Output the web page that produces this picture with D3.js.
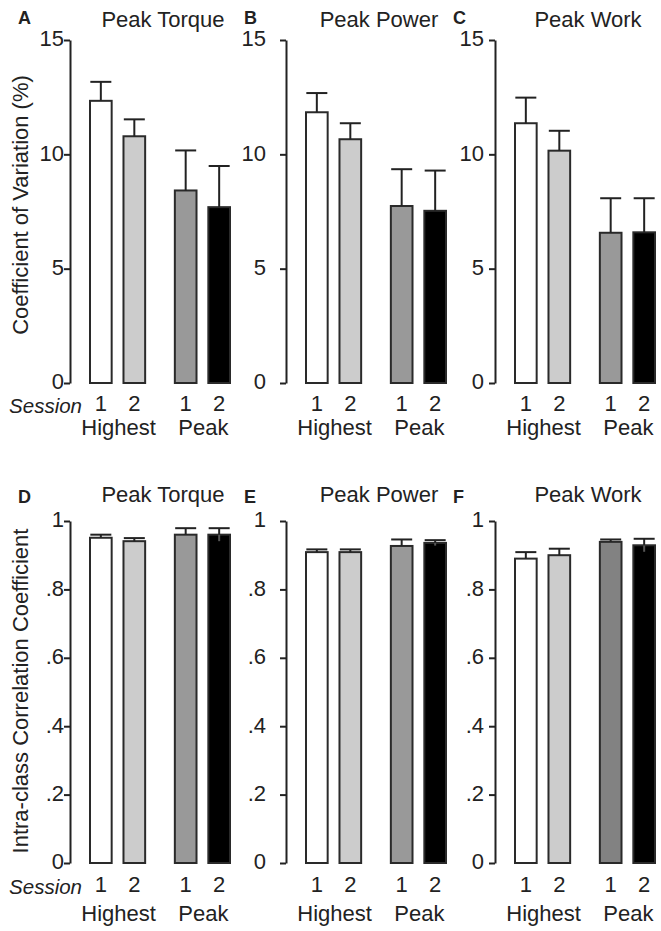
<!DOCTYPE html>
<html><head><meta charset="utf-8">
<script src="https://cdn.jsdelivr.net/npm/d3@7"></script>
<style>
body{margin:0;background:#fff}
svg{display:block}
text{font-family:"Liberation Sans",Arial,Helvetica,sans-serif;fill:#222}
</style>
</head><body><div id="chart"></div>
<script>
// ---------- data ----------
const metrics = ["Peak Torque", "Peak Power", "Peak Work"];
const groups = ["Highest", "Peak"];
const sessions = ["1", "2"];
const topLetters = ["A", "B", "C"];
const bottomLetters = ["D", "E", "F"];

// Coefficient of variation (%) : Highest S1, Highest S2, Peak S1, Peak S2
const cvTorqueMean = [12.34, 10.79, 8.42, 7.69];
const cvTorqueErr  = [0.83, 0.74, 1.75, 1.80];
const cvPowerMean  = [11.84, 10.66, 7.74, 7.53];
const cvPowerErr   = [0.84, 0.70, 1.61, 1.76];
const cvWorkMean   = [11.36, 10.16, 6.57, 6.59];
const cvWorkErr    = [1.12, 0.87, 1.51, 1.49];

// Intra-class correlation coefficient
const iccTorqueMean = [0.951, 0.941, 0.960, 0.960];
const iccTorqueErr  = [0.009, 0.009, 0.019, 0.019];
const iccPowerMean  = [0.909, 0.909, 0.927, 0.936];
const iccPowerErr   = [0.008, 0.008, 0.019, 0.008];
const iccWorkMean   = [0.890, 0.900, 0.939, 0.929];
const iccWorkErr    = [0.019, 0.019, 0.007, 0.019];

const cvTicks = [0, 5, 10, 15];
const cvTickLabels = ["0", "5", "10", "15"];
const iccTicks = [0, 0.2, 0.4, 0.6, 0.8, 1];
const iccTickLabels = ["0", ".2", ".4", ".6", ".8", "1"];

const barFills = ["#ffffff", "#cccccc", "#999999", "#000000"];
const barFillsWorkIcc = ["#ffffff", "#cccccc", "#828282", "#000000"];

// ---------- layout ----------
const W = 661, H = 931;
const FS = "22px";
const panelX = [70, 286, 495];
const labelPad = [0, 14, 5];
const svg = d3.select("#chart").append("svg").attr("width", W).attr("height", H);

const rows = [
  {
    y: d3.scaleLinear().domain([0, 15]).range([383, 40]),
    ticks: cvTicks, tickLabels: cvTickLabels,
    means: [cvTorqueMean, cvPowerMean, cvWorkMean],
    errs: [cvTorqueErr, cvPowerErr, cvWorkErr],
    fills: [barFills, barFills, barFills],
    letters: topLetters, titleY: 27, letterY: 24,
    sessionY: 411, groupY: 435,
    yLabel: "Coefficient of Variation (%)", yLabelCy: 205, lowerWhisker: false
  },
  {
    y: d3.scaleLinear().domain([0, 1]).range([863, 521]),
    ticks: iccTicks, tickLabels: iccTickLabels,
    means: [iccTorqueMean, iccPowerMean, iccWorkMean],
    errs: [iccTorqueErr, iccPowerErr, iccWorkErr],
    fills: [barFills, barFills, barFillsWorkIcc],
    letters: bottomLetters, titleY: 502, letterY: 503,
    sessionY: 892, groupY: 921,
    yLabel: "Intra-class Correlation Coefficient", yLabelCy: 691, lowerWhisker: true
  }
];

const xGroup = d3.scaleBand().domain(groups).range([20, 160]).paddingInner(0.35).paddingOuter(0);
const xSess = d3.scaleBand().domain(sessions).range([0, xGroup.bandwidth()]).paddingInner(0.353).paddingOuter(0);

const bars = [];
groups.forEach(g => sessions.forEach(s => bars.push({g, s})));

rows.forEach(row => {
  // y axis label
  svg.append("text")
    .attr("transform", `translate(28,${row.yLabelCy}) rotate(-90)`)
    .attr("text-anchor", "middle")
    .style("font-size", "22px")
    .text(row.yLabel);

  metrics.forEach((m, pi) => {
    const g = svg.append("g").attr("transform", `translate(${panelX[pi]},0)`);
    const y = row.y;

    // axis
    const axis = d3.axisLeft(y).tickValues(row.ticks)
      .tickFormat((d, i) => row.tickLabels[i])
      .tickSize(6).tickSizeOuter(0).tickPadding(labelPad[pi]);
    const ax = g.append("g").call(axis);
    ax.select(".domain").attr("stroke", "#222").attr("stroke-width", 2);
    ax.selectAll(".tick line").attr("stroke", "#222").attr("stroke-width", 2);
    ax.selectAll(".tick text").style("font-size", FS).attr("dy", "0.27em")
      .style("font-family", '"Liberation Sans",Arial,sans-serif').attr("fill", "#222");

    // bars
    const means = row.means[pi], errs = row.errs[pi], fills = row.fills[pi];
    bars.forEach((b, i) => {
      const x0 = xGroup(b.g) + xSess(b.s);
      const bw = xSess.bandwidth();
      const cx = x0 + bw / 2;
      g.append("rect")
        .attr("x", x0).attr("width", bw)
        .attr("y", y(means[i])).attr("height", y(0) - y(means[i]))
        .attr("fill", fills[i]).attr("stroke", "#2a2a2a").attr("stroke-width", 2);
      if (row.lowerWhisker && i === 3) {
        g.append("line").attr("x1", cx).attr("x2", cx)
          .attr("y1", y(means[i])).attr("y2", y(means[i] - errs[i]))
          .attr("stroke", "#555").attr("stroke-width", 2);
      }
      g.append("line").attr("x1", cx).attr("x2", cx)
        .attr("y1", y(means[i])).attr("y2", y(means[i] + errs[i]))
        .attr("stroke", "#222").attr("stroke-width", 2);
      g.append("line").attr("x1", cx - 10.5).attr("x2", cx + 10.5)
        .attr("y1", y(means[i] + errs[i])).attr("y2", y(means[i] + errs[i]))
        .attr("stroke", "#222").attr("stroke-width", 2);
      // session digit
      g.append("text").attr("x", cx).attr("y", row.sessionY)
        .attr("text-anchor", "middle").style("font-size", FS).text(b.s);
    });

    // group labels
    groups.forEach(gr => {
      g.append("text").attr("x", xGroup(gr) + xGroup.bandwidth() / 2 + 1).attr("y", row.groupY)
        .attr("text-anchor", "middle").style("font-size", FS).text(gr);
    });

    // title
    g.append("text").attr("x", 93).attr("y", row.titleY)
      .attr("text-anchor", "middle").style("font-size", FS).text(m);
    // letter
    g.append("text").attr("x", pi === 0 ? -52 : -42).attr("y", row.letterY)
      .style("font-size", "18px").style("font-weight", "bold").text(row.letters[pi]);

    if (pi === 0) {
      g.append("text").attr("x", 12).attr("y", row.sessionY + 2)
        .attr("text-anchor", "end").style("font-size", "20.5px").style("font-style", "italic")
        .text("Session");
    }
  });
});
</script>
</body></html>
